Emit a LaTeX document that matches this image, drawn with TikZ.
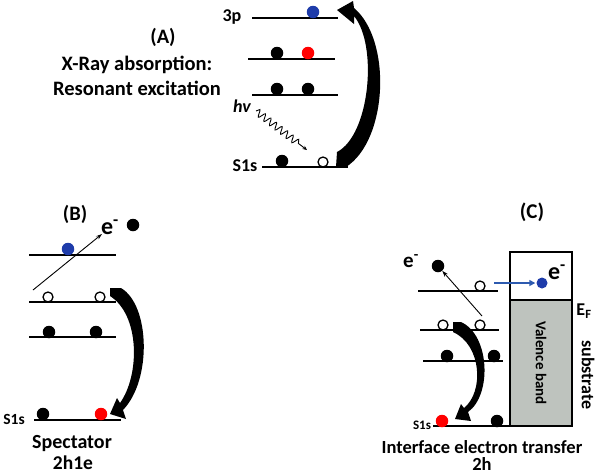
\documentclass[tikz,border=0pt]{standalone}
\usepackage{fontspec}
\setmainfont{Carlito}
\usetikzlibrary{arrows.meta,decorations.pathmorphing}
\definecolor{dblue}{RGB}{30,60,170}
\definecolor{vgray}{RGB}{190,195,190}
\definecolor{arrblue}{RGB}{45,90,175}
\newcommand{\fsz}[1]{\bfseries\fontsize{#1}{#1}\selectfont}
\tikzset{
  lvl/.style={line width=1.5pt},
  bdot/.style={circle,fill=black,minimum size=12.5pt,inner sep=0pt},
  rdot/.style={bdot,fill=red},
  udot/.style={bdot,fill=dblue},
  odot/.style={circle,draw=black,fill=white,line width=1.3pt,minimum size=10pt,inner sep=0pt},
  lbl/.style={font=\fsz{20.5},inner sep=0pt},
  thinarr/.style={line width=0.9pt,-{Stealth[length=6pt,width=4pt]}},
}
\begin{document}
\begin{tikzpicture}[x=1pt,y=-1pt]
\useasboundingbox (0,0) rectangle (596,475);
% ---------- Panel A ----------
\node[lbl] (Alab) at (163,37) {(A)};
\node[lbl] (Atxt1) at (137,65) {X-Ray absorption:};
\node[lbl] (Atxt2) at (137,88) {Resonant excitation};
\node[font=\fsz{18},inner sep=0pt] (A3p) at (232,17) {3p};
\draw[lvl] (252,18) -- (338,18);
\node[udot] (Au1) at (313,12) {};
\draw[lvl] (248,59) -- (335,59);
\node[bdot] (Ab1) at (277,53) {};
\node[rdot] (Ar1) at (308,53) {};
\draw[lvl] (252,95) -- (338,95);
\node[bdot] (Ab2) at (277,89) {};
\node[bdot] (Ab3) at (308,89) {};
\node[font=\fsz{18},inner sep=0pt] (AS1s) at (245,166) {S1s};
\draw[lvl] (262,167) -- (348,167);
\node[bdot] (Ab4) at (282,161) {};
\node[odot] (Ao1) at (323,162) {};
\node[font=\fsz{18}\itshape,inner sep=0pt] (Ahv) at (242,106) {hv};
\coordinate (hvs) at (256,111);
\coordinate (hve) at (307,150);
\draw[decorate,decoration={snake,amplitude=3.5pt,segment length=7pt,post length=8pt},line width=0.9pt,-{Stealth[length=4.5pt,width=4pt]}] (hvs) -- (hve);
\fill (336,167) -- (346,167) .. controls (388,140) and (392,40) .. (354,8) -- (353,1) -- (337,10) -- (354,24) -- (354,16) .. controls (378,45) and (370,135) .. (337,152) -- cycle;
% ---------- Panel B ----------
\node[lbl] (Blab) at (75,214) {(B)};
\node[font=\fsz{24},inner sep=0pt] (Be) at (110,227) {e\textsuperscript{-}};
\node[bdot] (Bfree) at (133,225) {};
\draw[lvl] (29,255) -- (116,255);
\node[udot] (Bu1) at (68,249) {};
\draw[lvl] (29,302) -- (116,302);
\node[odot] (Bo1) at (48,297) {};
\node[odot] (Bo2) at (100,297) {};
\draw[lvl] (29,337) -- (116,337);
\node[bdot] (Bb1) at (49,332) {};
\node[bdot] (Bb2) at (96,332) {};
\node[font=\fsz{15.5},inner sep=0pt] (BS1s) at (14,419) {S1s};
\draw[lvl] (34,420) -- (121,420);
\node[bdot] (Bb3) at (43,414) {};
\node[rdot] (Br1) at (101,414) {};
\coordinate (Bas) at (33,290);
\coordinate (Bae) at (102,234);
\draw[thinarr] (Bas) -- (Bae);
\fill (110,288) -- (121,288) .. controls (150,305) and (152,380) .. (123,410) -- (126,419) -- (110,414) -- (117,398) -- (120,403) .. controls (140,375) and (140,315) .. (110,296) -- cycle;
\node[font=\fsz{20},inner sep=0pt] (Bt1) at (72,444) {Spectator};
\node[font=\fsz{19.5},inner sep=0pt] (Bt2) at (73,463) {2h1e};
% ---------- Panel C ----------
\node[font=\fsz{21},inner sep=0pt] (Clab) at (532,212) {(C)};
\fill[vgray] (510,300) rectangle (572,426);
\draw[line width=1.5pt] (510,252) rectangle (572,426);
\draw[line width=1.5pt] (510,300) -- (572,300);
\node[font=\fsz{15},inner sep=0pt,rotate=-90] (Cvb) at (541,363) {Valence band};
\node[font=\fsz{24},inner sep=0pt] (Cbe) at (557,272) {e\textsuperscript{-}};
\node[udot,minimum size=11pt] (Cu1) at (542,283) {};
\coordinate (Cbs) at (494,283);
\draw[arrblue,line width=1.8pt,-{Triangle[length=6pt,width=6pt]},shorten >=1pt] (Cbs) -- (Cu1.west);
\node[font=\fsz{18},inner sep=0pt] (CEF) at (584,311) {E\textsubscript{F}};
\node[font=\fsz{18},inner sep=0pt,rotate=-90] (Csub) at (588,375) {substrate};
\node[font=\fsz{21},inner sep=0pt] (Ce) at (411,261) {e\textsuperscript{-}};
\node[bdot] (Cfree) at (438,266) {};
\draw[lvl] (418,291) -- (498,291);
\node[odot] (Co1) at (480,286) {};
\draw[lvl] (420,330) -- (499,330);
\node[odot] (Co2) at (443,325) {};
\node[odot] (Co3) at (480,325) {};
\draw[lvl] (423,361) -- (503,361);
\node[bdot] (Cb1) at (447,356) {};
\node[bdot] (Cb2) at (494,356) {};
\draw[lvl] (433,426) -- (510,426);
\node[rdot] (Cr1) at (442,421) {};
\node[bdot] (Cb3) at (497,421) {};
\node[font=\fsz{13},inner sep=0pt] (CS1s) at (422,425) {S1s};
\coordinate (Cas) at (482,316);
\draw[thinarr] (Cas) -- (Cfree);
\fill (453,322) -- (461,322) .. controls (490,335) and (492,395) .. (468,412) -- (471,421) -- (455,419) -- (461,404) -- (464,408) .. controls (484,392) and (482,345) .. (453,332) -- cycle;
\node[font=\fsz{18.5},inner sep=0pt] (Ct1) at (482,447) {Interface electron transfer};
\node[font=\fsz{18.5},inner sep=0pt] (Ct2) at (482,464) {2h};
\end{tikzpicture}
\end{document}
